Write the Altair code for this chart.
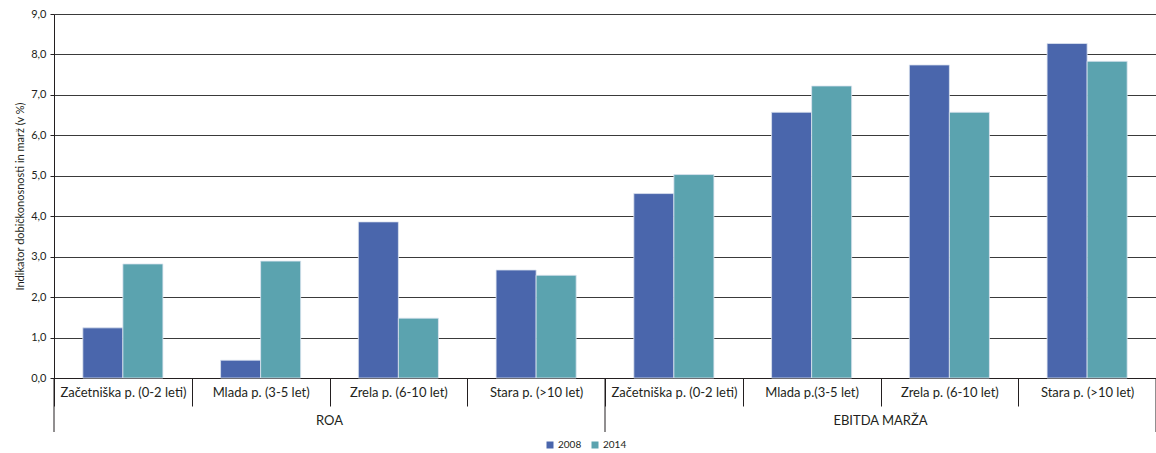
import altair as alt
import pandas as pd

# Indicator groups, company-age categories and the two years compared
groups = ["ROA"] * 4 + ["EBITDA MARŽA"] * 4
categories = [
    "Začetniška p. (0-2 leti)", "Mlada p. (3-5 let)", "Zrela p. (6-10 let)", "Stara p. (>10 let)",
    "Začetniška p. (0-2 leti)", "Mlada p.(3-5 let)", "Zrela p. (6-10 let)", "Stara p. (>10 let)",
]
years = ["2008", "2014"]
values_2008 = [1.24, 0.44, 3.86, 2.67, 4.56, 6.57, 7.74, 8.27]
values_2014 = [2.82, 2.89, 1.48, 2.54, 5.03, 7.22, 6.57, 7.83]
y_ticks = [0, 1, 2, 3, 4, 5, 6, 7, 8, 9]

keys = [f"{g}|{c}" for g, c in zip(groups, categories)]

rows = []
for k, g, a, b in zip(keys, groups, values_2008, values_2014):
    rows.append({"key": k, "group": g, "year": years[0], "value": a})
    rows.append({"key": k, "group": g, "year": years[1], "value": b})
df = pd.DataFrame(rows)

FONT = "Lato"
TEXT = "#231f20"
W, H = 1102, 364

x_scale = alt.Scale(domain=keys, paddingInner=0, paddingOuter=0)

bars = alt.Chart(df).mark_bar(stroke="#dde4f0", strokeWidth=0.8).encode(
    x=alt.X(
        "key:N", sort=keys, scale=x_scale, title=None,
        axis=alt.Axis(
            labelExpr="split(datum.label, '|')[1]", labelAngle=0,
            tickBand="extent", tickSize=28, tickColor=TEXT, tickWidth=1,
            labelPadding=-20, labelBaseline="top", labelFontSize=13,
            labelColor=TEXT, labelFont=FONT, domainColor=TEXT, grid=False,
        ),
    ),
    xOffset=alt.XOffset("year:N", scale=alt.Scale(domain=years, paddingInner=0, paddingOuter=0.72)),
    y=alt.Y(
        "value:Q", scale=alt.Scale(domain=[0, 9], nice=False),
        axis=alt.Axis(
            values=y_ticks, labelExpr="replace(format(datum.value, '.1f'), '.', ',')",
            title="Indikator dobičkonosnosti in marž (v %)", titleFontSize=11,
            titleFont=FONT, titleFontWeight="normal", titleColor=TEXT, titlePadding=5,
            labelFontSize=11, labelFont=FONT, labelColor=TEXT, labelPadding=4,
            tickSize=4, tickColor=TEXT, domainColor=TEXT,
            grid=True, gridColor="#3a3a3a", gridWidth=1,
        ),
    ),
    color=alt.Color(
        "year:N", scale=alt.Scale(domain=years, range=["#4a66ac", "#5ba3af"]),
        legend=alt.Legend(
            title=None, orient="none", direction="horizontal", legendX=491, legendY=426,
            symbolType="square", symbolSize=49, symbolStrokeWidth=0,
            labelFontSize=10, labelFont=FONT, labelColor=TEXT, columnPadding=8, labelOffset=3,
        ),
    ),
)

# Group separators running below the category row
group_df = pd.DataFrame({
    "key": [keys[0], keys[4], keys[7]],
    "pos": [0, 0, 1],
})
separators = alt.Chart(group_df).mark_rule(color=TEXT, strokeWidth=1).encode(
    x=alt.X("key:N", sort=keys, scale=x_scale, bandPosition=0),
    y=alt.value(H),
    y2=alt.value(H + 54),
).transform_filter("datum.pos == 0")
end_sep = alt.Chart(group_df).mark_rule(color=TEXT, strokeWidth=1).encode(
    x=alt.X("key:N", sort=keys, scale=x_scale, bandPosition=1),
    y=alt.value(H),
    y2=alt.value(H + 54),
).transform_filter("datum.pos == 1")

# Group titles centred under each block of four categories
title_df = pd.DataFrame({"key": [keys[1], keys[5]], "label": ["ROA", "EBITDA MARŽA"]})
group_titles = alt.Chart(title_df).mark_text(
    font=FONT, fontSize=13, color=TEXT, baseline="middle", align="center"
).encode(
    x=alt.X("key:N", sort=keys, scale=x_scale, bandPosition=1),
    y=alt.value(H + 43),
    text="label:N",
)

chart = alt.layer(bars, separators, end_sep, group_titles).properties(
    width=W, height=H,
    autosize=alt.AutoSizeParams(type="none"),
    padding={"left": 54, "top": 14, "right": 0, "bottom": 75},
).configure_view(stroke=None).configure(background="white")

chart.save("out.html", embed_options={"renderer": "svg", "actions": False})
